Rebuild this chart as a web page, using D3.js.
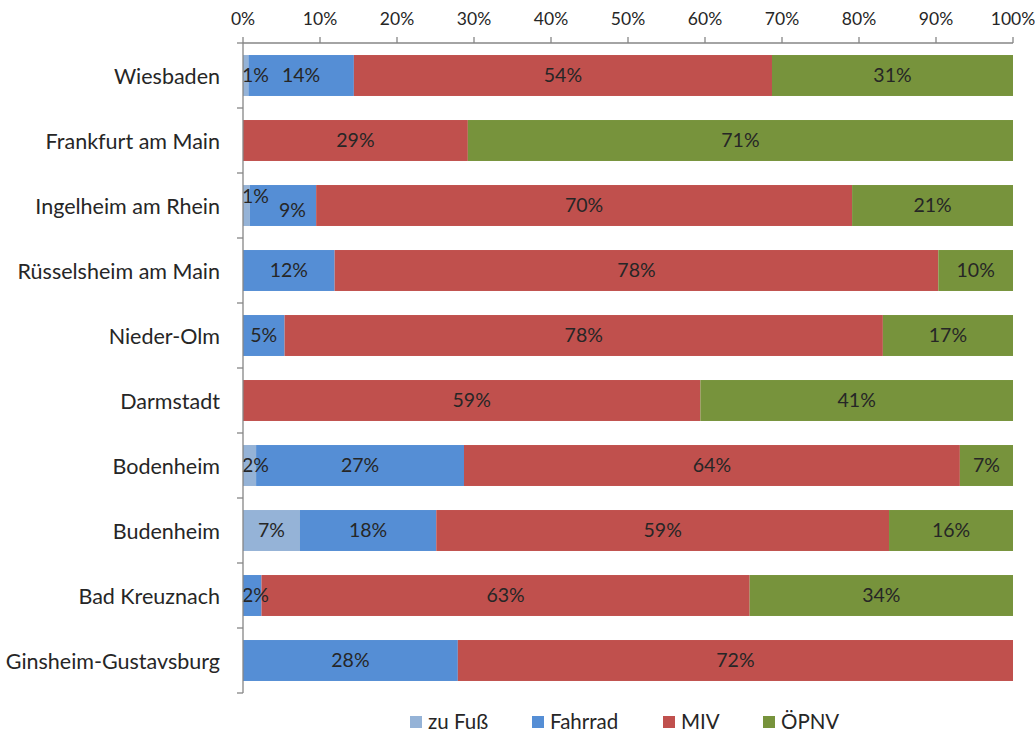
<!DOCTYPE html>
<html><head><meta charset="utf-8">
<script src="https://cdn.jsdelivr.net/npm/d3@7"></script>
<style>body{margin:0;background:#fff;}svg{display:block;}</style>
</head><body>
<svg id="c" width="1035" height="735"></svg>
<script>
const categories = ["Wiesbaden","Frankfurt am Main","Ingelheim am Rhein","Rüsselsheim am Main","Nieder-Olm","Darmstadt","Bodenheim","Budenheim","Bad Kreuznach","Ginsheim-Gustavsburg"];
const seriesNames = ["zu Fuß","Fahrrad","MIV","ÖPNV"];
const zuFuss  = [0.7, 0,   0.9, 0,    0,    0,    1.7, 7.4, 0,    0];
const fahrrad = [13.7,0,   8.6, 11.9, 5.4,  0,    27.0,17.7,2.4,  27.9];
const miv     = [54.3,29.2,69.6,78.4, 77.7, 59.4, 64.4,58.8,63.4, 72.1];
const oepnv   = [31.3,70.8,20.9,9.7,  16.9, 40.6, 6.9, 16.1,34.2, 0];
const ticks = [0,10,20,30,40,50,60,70,80,90,100];
const colors = ["#95B3D7","#558ED5","#C0504D","#77933C"];

const font = "Lato, 'Open Sans', sans-serif";
const svg = d3.select("#c");
const pL = 243, pR = 1013, pT = 43, pB = 693;
const x = d3.scaleLinear().domain([0,100]).range([pL,pR]);
const y = d3.scaleBand().domain(categories).range([pT,pB]).paddingInner(0.37).paddingOuter(0.185);
const yb = d3.scaleBand().domain(categories).range([pT,pB]);

const seriesData = [zuFuss, fahrrad, miv, oepnv];
const rows = categories.map((c,i)=>{const o={cat:c}; seriesNames.forEach((s,j)=>o[s]=seriesData[j][i]); return o;});
const stacked = d3.stack().keys(seriesNames)(rows);

const g = svg.append("g");
stacked.forEach((layer,j)=>{
  g.selectAll(null).data(layer).join("rect")
    .attr("x", d=>x(d[0])).attr("width", d=>x(d[1])-x(d[0]))
    .attr("y", d=>y(d.data.cat)).attr("height", y.bandwidth())
    .attr("fill", colors[j]);
});
const lastLabel = {};
stacked.forEach((layer,j)=>{
  layer.forEach(d=>{
    const v = d[1]-d[0];
    if(v<=0) return;
    const cat = d.data.cat;
    let cx = (x(d[0])+x(d[1]))/2;
    const cy = y(cat)+y.bandwidth()/2;
    const t = g.append("text").text(Math.round(v)+"%")
      .attr("y", cy).attr("dy","0.35em")
      .attr("text-anchor","middle").attr("font-family",font).attr("font-size",19.5)
      .attr("fill","#262626");
    const w = t.node().getComputedTextLength();
    if (cx - w/2 < pL - 1) cx = pL - 1 + w/2;
    const prev = lastLabel[cat];
    if (prev && cx - w/2 < prev.right + 2) {
      prev.node.attr("y", cy - 9);
      t.attr("y", cy + 5);
      cx = Math.max(cx, prev.right + 10 + w/2);
    }
    t.attr("x", cx);
    lastLabel[cat] = {node:t, right: cx + w/2};
  });
});

const axisColor = "#868686";
const ax = svg.append("g");
ax.append("line").attr("x1",pL).attr("x2",pR).attr("y1",pT).attr("y2",pT).attr("stroke",axisColor).attr("stroke-width",1.3);
ax.selectAll(null).data(ticks).join("line")
  .attr("x1",d=>x(d)).attr("x2",d=>x(d)).attr("y1",pT-6).attr("y2",pT).attr("stroke",axisColor).attr("stroke-width",1.3);
ax.selectAll(null).data(ticks).join("text")
  .attr("x",d=>x(d)).attr("y",25).attr("text-anchor","middle")
  .attr("font-family",font).attr("font-size",17.5).attr("fill","#262626")
  .text(d=>d+"%");

const ly = svg.append("g");
ly.append("line").attr("x1",pL).attr("x2",pL).attr("y1",pT).attr("y2",pB).attr("stroke",axisColor).attr("stroke-width",1.3);
const bounds = categories.map(c=>yb(c)).concat([pB]);
ly.selectAll(null).data(bounds).join("line")
  .attr("x1",pL-6).attr("x2",pL).attr("y1",d=>d).attr("y2",d=>d).attr("stroke",axisColor).attr("stroke-width",1.3);
ly.selectAll(null).data(categories).join("text")
  .attr("x",220).attr("y",d=>yb(d)+yb.bandwidth()/2+1).attr("dy","0.35em")
  .attr("text-anchor","end").attr("font-family",font).attr("font-size",21.5).attr("fill","#262626")
  .text(d=>d);

const legX = [410, 532, 663, 763];
const lg = svg.append("g");
seriesNames.forEach((s,j)=>{
  lg.append("rect").attr("x",legX[j]).attr("y",716).attr("width",12).attr("height",12).attr("fill",colors[j]);
  lg.append("text").attr("x",legX[j]+18).attr("y",722).attr("dy","0.35em")
    .attr("font-family",font).attr("font-size",20.5).attr("fill","#262626").text(s);
});
</script>
</body></html>
